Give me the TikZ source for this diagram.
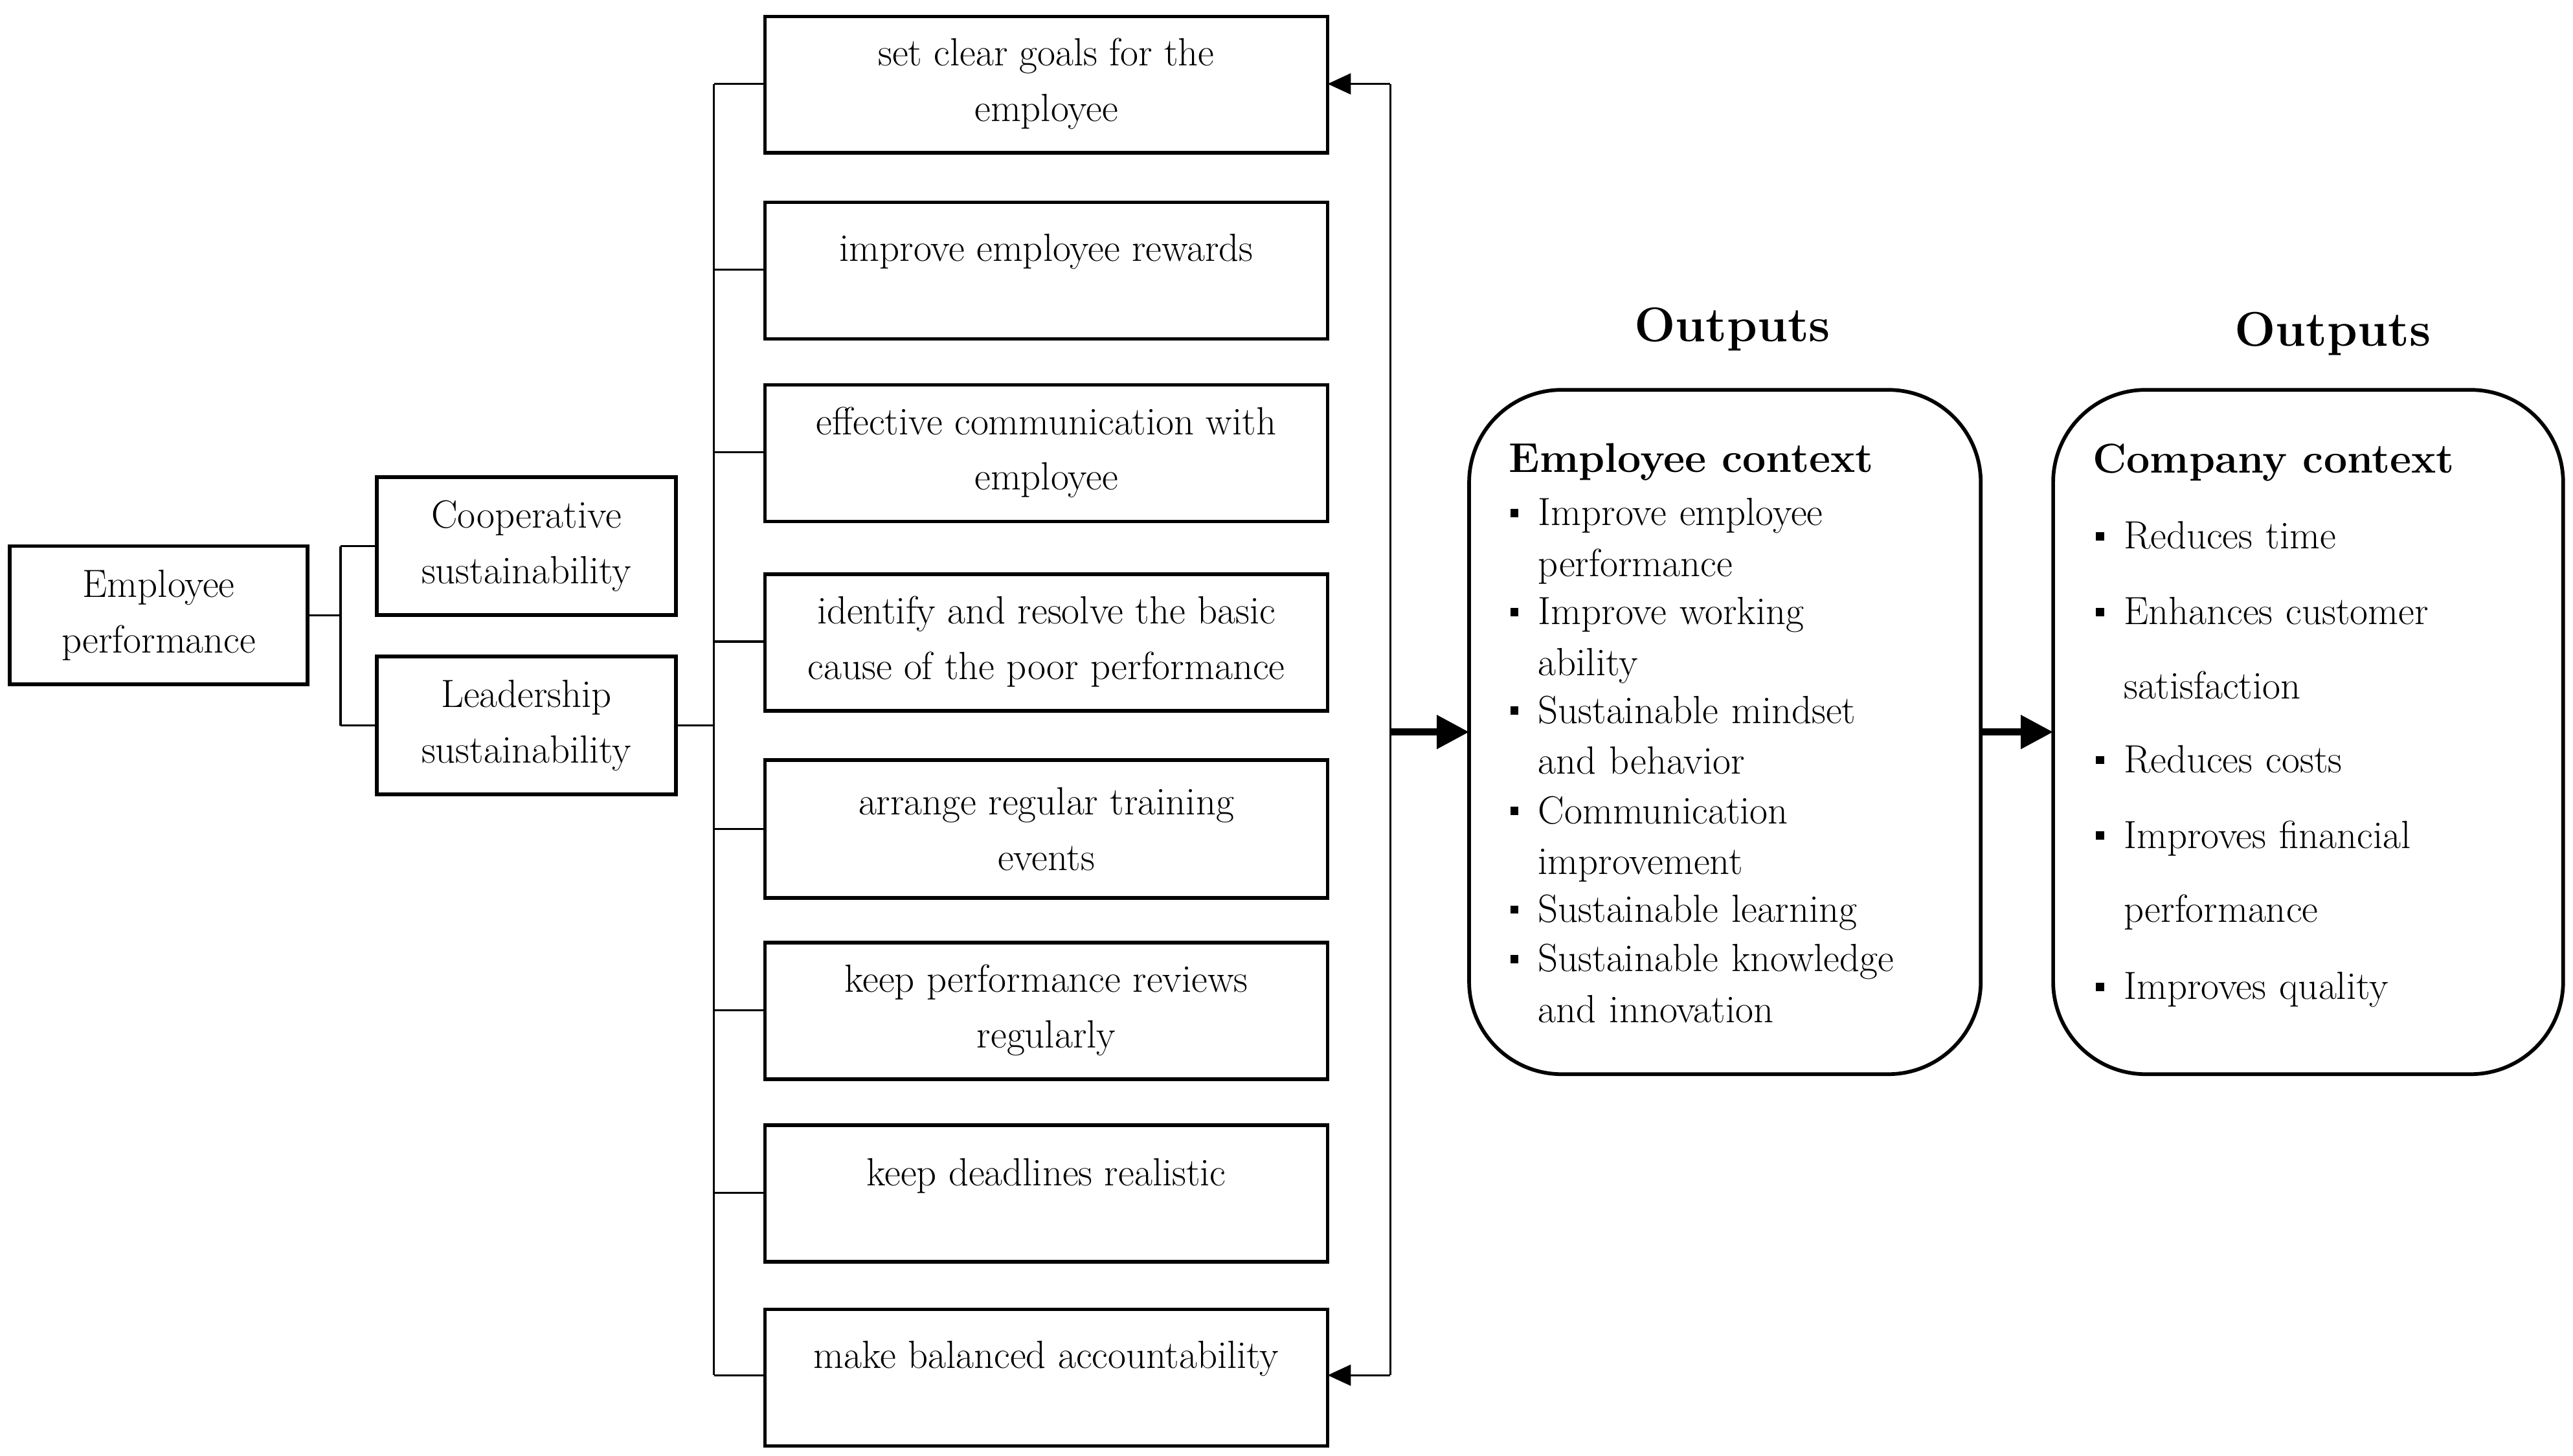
\documentclass[tikz,border=0pt]{standalone}
\usetikzlibrary{arrows.meta}
\begin{document}
\begin{tikzpicture}[x=0.025cm,y=-0.025cm,
 bx/.style={draw,line width=1.6pt,rectangle,inner sep=0pt},
 ln/.style={line width=0.9pt},
 tx/.style={font=\fontsize{17}{24}\selectfont,align=center},
 rb/.style={draw,line width=1.6pt,rounded corners=40pt},
 bl/.style={font=\fontsize{17}{22}\selectfont,align=left,anchor=north west,text width=7.3cm}]
\useasboundingbox (0,0) rectangle (1564,885);
% left boxes
\node[bx,minimum width=181*0.025cm,minimum height=84*0.025cm] (ep) at (96.5,374) {};
\node[tx] at (96.5,374) {Employee\\performance};
\node[bx,minimum width=182*0.025cm,minimum height=84*0.025cm] (cs) at (320,332) {};
\node[tx] at (320,332) {Cooperative\\sustainability};
\node[bx,minimum width=182*0.025cm,minimum height=84*0.025cm] (ls) at (320,441) {};
\node[tx] at (320,441) {Leadership\\sustainability};
\coordinate (j1) at (207,374);
\draw[ln] (ep.east) -- (j1) (207,332) -- (207,441);
\draw[ln] (207,332) -- (cs.west);
\draw[ln] (207,441) -- (ls.west);
% middle boxes
\foreach \n/\t/\b/\txt/\ty in {
 b1/10/93/{set clear goals for the\\employee}/51,
 b2/123/206/{improve employee rewards}/153,
 b3/234/317/{effective communication with\\employee}/275,
 b4/349/432/{identify and resolve the basic\\cause of the poor performance}/390,
 b5/462/546/{arrange regular training\\events}/504,
 b6/573/656/{keep performance reviews\\regularly}/614,
 b7/684/767/{keep deadlines realistic}/715,
 b8/796/879/{make balanced accountability}/826}{
 \draw[line width=1.6pt] (465,\t) rectangle (807,\b);
 \coordinate (\n w) at (465,{(\t+\b)/2});
 \coordinate (\n e) at (807,{(\t+\b)/2});
 \node[tx] at (636,\ty) {\txt};
}
\draw[ln] (ls.east) -- (434,441);
\draw[ln] (434,51) -- (434,836);
\foreach \y in {51,164,275,390,504,614,725,836} \draw[ln] (434,\y) -- (465,\y);
% right bracket
\draw[ln] (845,51) -- (845,836);
\draw[ln,-{Triangle[length=10pt,width=9pt]}] (845,51) -- (807,51);
\draw[ln,-{Triangle[length=10pt,width=9pt]}] (845,836) -- (807,836);
% output boxes
\draw[rb] (893,237) rectangle (1204,653);
\draw[rb] (1248,237) rectangle (1558,653);
\node (o1) at (1053,200) {\fontsize{21}{26}\selectfont\bfseries Outputs};
\node (o2) at (1418,203) {\fontsize{21}{26}\selectfont\bfseries Outputs};
\draw[line width=3pt,-{Triangle[length=14pt,width=14pt]}] (845,445) -- (893,445);
\draw[line width=3pt,-{Triangle[length=14pt,width=14pt]}] (1204,445) -- (1248,445);
\node at (1028,281) {\fontsize{18}{22}\selectfont\bfseries Employee context};
\node at (1382,281) {\fontsize{18}{22}\selectfont\bfseries Company context};
\foreach \y/\txt in {312/{Improve employee\\performance},372/{Improve working\\ability},432/{Sustainable mindset\\and behavior},493/{Communication\\improvement},553/{Sustainable learning},583/{Sustainable knowledge\\and innovation}}{
 \fill (918,\y-2.5) rectangle +(5,5);
 \node[bl,text width=6.2cm] at (930,\y-14) {\txt};
}
\foreach \y/\txt in {326/{Reduces time},372/{Enhances customer},417/{satisfaction},462/{Reduces costs},508/{Improves financial},553/{performance},600/{Improves quality}}{
 \node[bl] at (1286,\y-14) {\txt};
}
\foreach \y in {326,372,462,508,600} \fill (1274,\y-2.5) rectangle +(5,5);
\end{tikzpicture}
\end{document}
